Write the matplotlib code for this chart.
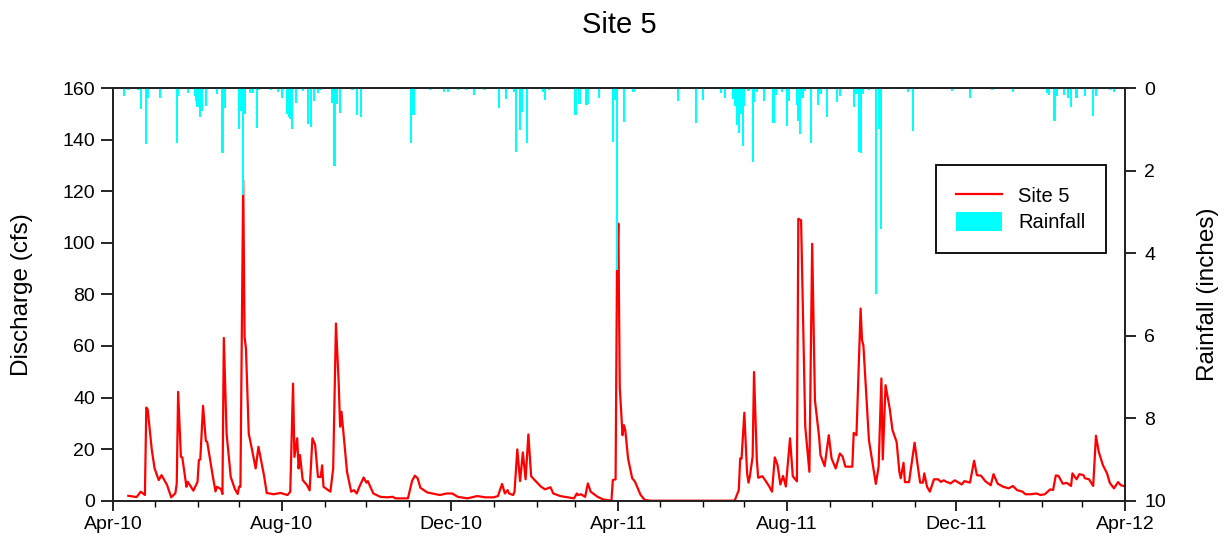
import matplotlib.pyplot as plt
import matplotlib.dates as mdates
import numpy as np

plt.rcParams['font.family'] = ['Liberation Sans', 'DejaVu Sans']

# Data (days counted from 2010-04-01)
start = np.datetime64('2010-04-01')

flow_day = [11, 17, 20, 23, 24, 25, 28, 30, 33, 35, 39, 42, 45, 46, 47, 49, 50, 53, 54, 58,
            61, 62, 63, 65, 67, 68, 72, 74, 75, 78, 79, 80, 82, 85, 88, 90, 91, 92, 94, 95,
            96, 98, 100, 103, 105, 109, 111, 116, 121, 126, 128, 130, 131, 133, 134, 135, 137, 140, 142, 144,
            146, 148, 150, 151, 152, 157, 159, 161, 163, 164, 165, 169, 172, 174, 176, 178, 181, 183, 184, 188,
            193, 198, 202, 204, 213, 216, 218, 220, 222, 227, 236, 241, 245, 249, 256, 263, 269, 275, 278, 281,
            283, 285, 286, 289, 290, 292, 294, 296, 298, 300, 302, 304, 309, 312, 316, 318, 323, 333, 335, 336,
            338, 341, 343, 345, 350, 354, 360, 361, 363, 364, 365, 366, 368, 369, 370, 372, 375, 377, 381, 384,
            388, 449, 452, 453, 454, 456, 458, 459, 460, 462, 463, 465, 466, 469, 471, 474, 476, 478, 480, 482,
            484, 486, 489, 491, 494, 495, 497, 500, 503, 505, 507, 510, 511, 514, 517, 519, 522, 525, 527, 529,
            534, 535, 537, 540, 541, 542, 546, 549, 551, 553, 555, 556, 558, 561, 563, 566, 568, 569, 571, 572,
            575, 576, 579, 581, 583, 585, 586, 588, 590, 593, 596, 598, 600, 602, 605, 608, 613, 615, 619, 622,
            624, 627, 630, 634, 636, 639, 643, 647, 650, 653, 657, 659, 663, 667, 670, 673, 677, 679, 681, 683,
            686, 689, 692, 693, 696, 698, 701, 702, 705, 708, 710, 712, 715, 718, 720, 723, 726, 728, 730]
flow_cfs = [1.9, 1.4, 3.5, 2.2, 36.1, 35.4, 19.6, 12.5, 8.0, 9.9, 6.1, 1.3, 2.9, 6.7, 42.2, 17.0, 16.8, 5.4, 7.3, 3.9,
            7.3, 15.8, 16.0, 36.8, 23.2, 22.8, 9.6, 3.6, 5.4, 4.5, 2.6, 63.1, 26.0, 9.2, 4.5, 2.6, 5.4, 5.4, 124.2, 63.5,
            58.9, 26.0, 20.8, 12.5, 20.9, 9.9, 3.0, 2.5, 3.0, 2.2, 3.5, 45.4, 17.0, 24.2, 12.5, 17.7, 8.0, 6.1, 4.0, 24.2,
            21.6, 9.2, 9.2, 13.7, 5.4, 3.5, 12.5, 68.7, 45.4, 28.7, 34.5, 11.2, 3.5, 4.1, 2.8, 5.5, 9.0, 7.0, 7.6, 2.8,
            1.5, 1.3, 1.5, 0.9, 0.9, 7.7, 9.7, 8.7, 5.0, 3.2, 2.2, 2.8, 2.8, 1.5, 0.9, 1.8, 1.3, 1.3, 1.8, 6.5,
            2.8, 4.1, 2.8, 2.2, 3.5, 19.9, 7.6, 18.7, 8.3, 25.7, 9.5, 8.3, 5.5, 4.4, 5.2, 2.8, 1.8, 0.9, 2.8, 2.2,
            2.5, 1.5, 6.7, 3.5, 1.5, 0.5, 0.0, 8.0, 8.3, 88.7, 107.4, 44.2, 25.4, 29.3, 27.4, 16.4, 8.7, 7.4, 2.3, 0.3,
            0.0, 0.0, 4.1, 16.4, 16.3, 34.1, 10.6, 7.0, 9.4, 17.2, 49.9, 16.1, 8.9, 9.5, 8.0, 5.5, 3.5, 16.8, 13.8, 6.3,
            9.6, 5.5, 24.2, 9.5, 7.5, 109.3, 108.7, 28.7, 11.2, 99.6, 39.0, 24.8, 17.7, 13.4, 25.4, 16.4, 12.5, 18.3, 17.1, 13.2,
            13.2, 26.3, 25.4, 74.5, 62.2, 60.3, 23.5, 13.2, 6.5, 13.2, 47.4, 16.0, 44.8, 35.8, 27.4, 22.8, 11.2, 8.7, 14.7, 7.2,
            7.2, 11.2, 22.5, 14.5, 7.0, 7.0, 10.6, 5.4, 3.5, 8.3, 8.3, 7.3, 7.9, 7.3, 6.7, 7.9, 6.3, 7.6, 7.0, 15.5,
            9.9, 9.7, 7.6, 6.0, 10.3, 6.6, 5.4, 4.8, 5.7, 4.1, 3.5, 2.5, 2.5, 2.8, 2.2, 2.5, 4.4, 4.1, 9.8, 9.6,
            6.6, 6.9, 5.7, 10.6, 8.3, 10.3, 9.9, 8.7, 8.3, 5.7, 25.2, 19.0, 13.8, 10.6, 6.9, 4.8, 7.2, 6.0, 5.7]

rain_day = [8, 11, 18, 20, 24, 25, 34, 46, 47, 54, 59, 60, 61, 63, 64, 67, 75, 79, 81, 91,
            92, 94, 95, 99, 101, 104, 105, 114, 119, 122, 126, 127, 128, 129, 132, 137, 141, 143, 145, 148,
            150, 158, 160, 162, 164, 173, 176, 179, 215, 217, 229, 239, 242, 249, 255, 261, 268, 279, 284, 290,
            291, 294, 295, 299, 300, 311, 312, 315, 334, 337, 342, 343, 351, 361, 363, 364, 369, 376, 391, 408,
            421, 426, 439, 442, 448, 449, 451, 452, 454, 455, 456, 459, 462, 463, 465, 470, 477, 479, 483, 487,
            488, 494, 495, 496, 498, 500, 504, 509, 511, 516, 523, 525, 535, 537, 539, 540, 542, 546, 551, 553,
            555, 564, 574, 578, 583, 593, 606, 619, 635, 650, 675, 676, 680, 682, 687, 690, 692, 696, 702, 708,
            710, 720, 723]
rain_in = [0.19, 0.04, 0.05, 0.50, 1.36, 0.23, 0.24, 1.34, 0.20, 0.13, 0.19, 0.32, 0.47, 0.71, 0.55, 0.43, 0.15, 1.58, 0.49, 1.00,
           0.55, 2.60, 0.63, 0.13, 0.13, 0.96, 0.05, 0.04, 0.10, 0.24, 0.63, 0.70, 0.75, 1.00, 0.37, 0.08, 0.87, 0.94, 0.31, 0.13,
           0.05, 0.37, 1.89, 0.39, 0.61, 0.05, 0.66, 0.70, 1.34, 0.65, 0.05, 0.10, 0.10, 0.04, 0.04, 0.18, 0.04, 0.49, 0.27, 0.10,
           1.55, 1.02, 0.59, 1.34, 0.03, 0.10, 0.28, 0.06, 0.65, 0.39, 0.41, 0.39, 0.23, 1.32, 0.30, 4.40, 0.83, 0.10, 0.03, 0.32,
           0.85, 0.28, 0.13, 0.24, 0.27, 0.43, 0.90, 1.09, 0.63, 1.40, 0.43, 0.08, 1.79, 0.35, 0.10, 0.32, 0.85, 0.16, 0.10, 0.91,
           0.31, 0.40, 0.79, 1.12, 0.23, 0.08, 1.33, 0.40, 0.15, 0.71, 0.33, 0.19, 0.47, 0.15, 1.56, 1.58, 0.15, 0.04, 5.00, 0.99,
           3.42, 0.03, 0.10, 1.03, 0.03, 0.03, 0.08, 0.23, 0.04, 0.10, 0.11, 0.18, 0.80, 0.19, 0.16, 0.23, 0.47, 0.25, 0.19, 0.67,
           0.19, 0.04, 0.10]

flow_dates = start + np.array(flow_day).astype('timedelta64[D]')
rain_dates = start + np.array(rain_day).astype('timedelta64[D]')

# Plot
fig = plt.figure(figsize=(12.29, 5.44), dpi=100)
ax = fig.add_axes([0.092, 0.0796, 0.8234, 0.7586])
line, = ax.plot(flow_dates, flow_cfs, color='red', lw=1.6, label='Site 5')
ax.set_ylim(0, 160)
ax.set_yticks(range(0, 161, 20))
ax.set_xlim(np.datetime64('2010-04-01'), np.datetime64('2012-04-01'))
ax.xaxis.set_major_locator(mdates.MonthLocator(bymonth=[4, 8, 12]))
ax.xaxis.set_minor_locator(mdates.MonthLocator())
ax.xaxis.set_major_formatter(mdates.DateFormatter('%b-%y'))
ax.set_ylabel('Discharge (cfs)', fontsize=17.5)
ax.yaxis.set_label_coords(-0.079, 0.5)

ax2 = ax.twinx()
bars = ax2.bar(rain_dates, rain_in, width=1.6, color='cyan', linewidth=0, label='Rainfall')
ax2.set_ylim(10, 0)
ax2.set_yticks(range(0, 11, 2))
ax2.set_ylabel('Rainfall (inches)', fontsize=17.5)
ax2.yaxis.set_label_coords(1.071, 0.5)

for a in (ax, ax2):
    for s in a.spines.values():
        s.set_linewidth(1.3)
        s.set_color('#222222')
ax.tick_params(axis='y', labelsize=14, length=9, width=1.2, pad=4)
ax.tick_params(axis='x', which='major', labelsize=14, length=7, width=1.2, pad=4)
ax.tick_params(axis='x', which='minor', length=4, width=1.0)
ax2.tick_params(axis='y', labelsize=14, length=8, width=1.2, pad=6)

leg = ax2.legend([line, bars], ['Site 5', 'Rainfall'], loc='upper right',
                 bbox_to_anchor=(0.981, 0.813), fontsize=14.5, fancybox=False,
                 framealpha=1, edgecolor='black', handlelength=2.3, handleheight=1.1,
                 borderpad=1.0, labelspacing=0.3, borderaxespad=0)
leg.get_frame().set_linewidth(1.3)

fig.text(0.504, 1 - 25 / 544, 'Site 5', ha='center', va='center', fontsize=21)

fig.savefig('out.png', dpi=100)
